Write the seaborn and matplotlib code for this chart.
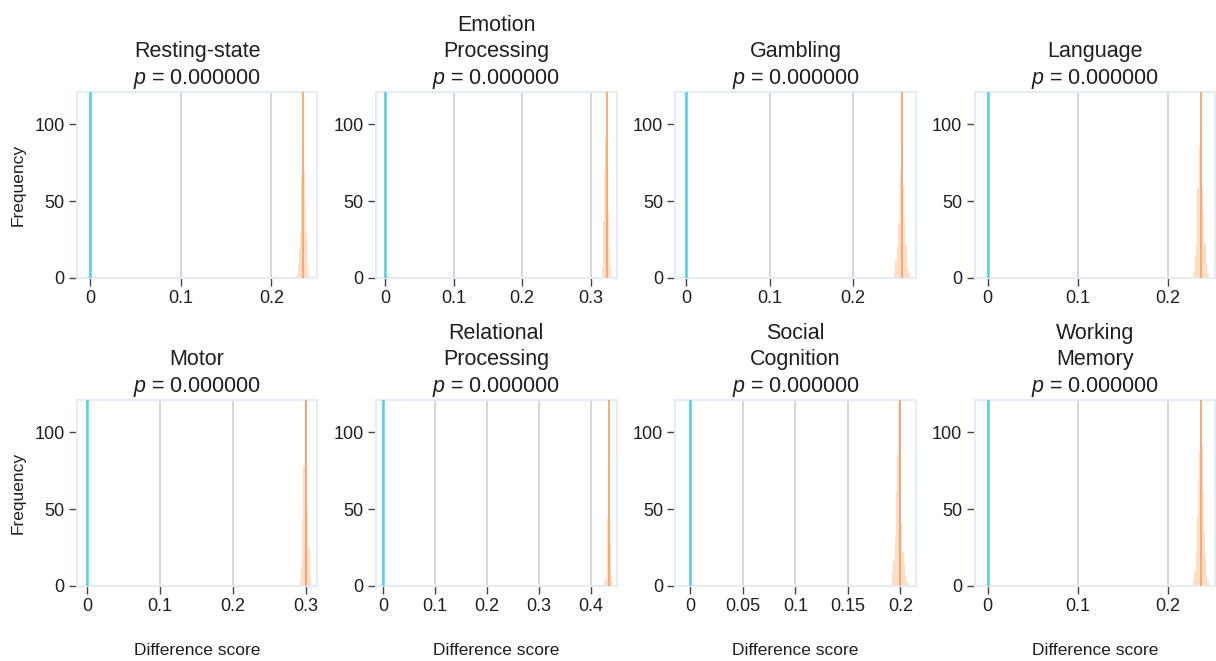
import matplotlib
matplotlib.use("Agg")
import matplotlib.pyplot as plt
import numpy as np
import pandas as pd
import seaborn as sns

sns.set_theme(style="white")
plt.rcParams['font.family'] = ['Liberation Sans', 'DejaVu Sans']
plt.rcParams['mathtext.fontset'] = 'custom'
plt.rcParams['mathtext.it'] = 'Liberation Sans:italic'
plt.rcParams['mathtext.rm'] = 'Liberation Sans'

# Data
tasks = ["Resting-state", "Emotion\nProcessing", "Gambling", "Language",
         "Motor", "Relational\nProcessing", "Social\nCognition", "Working\nMemory"]
p_values = [0.0, 0.0, 0.0, 0.0, 0.0, 0.0, 0.0, 0.0]
mean_diff = [0.2344, 0.3240, 0.2594, 0.2370, 0.3004, 0.4350, 0.1997, 0.2363]
hist_lo = [0.2278, 0.3167, 0.2494, 0.2278, 0.2918, 0.4266, 0.1908, 0.2278]
hist_hi = [0.2418, 0.3304, 0.2687, 0.2448, 0.3073, 0.4440, 0.2080, 0.2448]
counts_rest = [3, 8, 18, 30, 65, 68, 84, 70, 46, 29, 10, 3]
counts_emotion = [6, 37, 70, 91, 75, 42, 20, 6]
counts_gambling = [3, 12, 20, 36, 70, 86, 60, 40, 22, 7, 3]
counts_language = [4, 14, 22, 59, 86, 94, 59, 42, 22, 10, 3]
counts_motor = [3, 13, 43, 78, 116, 77, 52, 25, 5]
counts_relational = [3, 5, 45, 84, 78, 28, 7, 3]
counts_social = [2, 9, 16, 32, 62, 86, 118, 57, 40, 22, 14, 7, 3, 2]
counts_wm = [4, 9, 22, 45, 68, 87, 118, 92, 62, 35, 18, 7, 3]
all_counts = [counts_rest, counts_emotion, counts_gambling, counts_language,
              counts_motor, counts_relational, counts_social, counts_wm]

# axis setup per panel
x_ticks = [[0, 0.1, 0.2], [0, 0.1, 0.2, 0.3], [0, 0.1, 0.2], [0, 0.1, 0.2],
           [0, 0.1, 0.2, 0.3], [0, 0.1, 0.2, 0.3, 0.4],
           [0, 0.05, 0.1, 0.15, 0.2], [0, 0.1, 0.2]]
x_lims = [(-0.0143, 0.2505), (-0.013, 0.338), (-0.0133, 0.276), (-0.0144, 0.252),
          (-0.0137, 0.316), (-0.0135, 0.45), (-0.0143, 0.2147), (-0.0144, 0.252)]

hist_color = "#ffae78"
mean_color = "#f7a56a"
zero_color = "#52d0ef"
grid_color = "#d3d7de"
spine_color = "#e6ecf6"
text_color = "#1f1f1f"

fig, axes = plt.subplots(2, 4, figsize=(12.16, 6.61), dpi=100)
fig.subplots_adjust(left=0.0633, right=0.9992, bottom=0.1135, top=0.8608,
                    wspace=0.245, hspace=0.656)

for i, ax in enumerate(axes.flat):
    counts = all_counts[i]
    n = len(counts)
    edges = np.linspace(hist_lo[i], hist_hi[i], n + 1)
    centers = (edges[:-1] + edges[1:]) / 2
    df = pd.DataFrame({"diff": centers, "n": counts})

    for t in x_ticks[i]:
        ax.axvline(t, color=grid_color, lw=1.5, zorder=0)
    sns.histplot(data=df, x="diff", weights="n", bins=n,
                 binrange=(hist_lo[i], hist_hi[i]), ax=ax,
                 color=hist_color, alpha=0.42, edgecolor=None, linewidth=0, zorder=2)
    ax.axvline(0, color=zero_color, lw=1.8, zorder=3)
    ax.axvline(mean_diff[i], color=mean_color, lw=1.3, zorder=3)

    ax.set_xlim(x_lims[i])
    ax.set_ylim(0, 121)
    ax.set_xticks(x_ticks[i])
    ax.set_xticklabels([f"{t:g}" for t in x_ticks[i]])
    ax.set_yticks([0, 50, 100])
    ax.tick_params(axis="both", direction="out", length=6, width=1, color="#444444",
                   labelsize=13, labelcolor=text_color, pad=3,
                   bottom=True, left=True)
    for sp in ax.spines.values():
        sp.set_color(spine_color)
        sp.set_linewidth(1.5)

    ax.set_title(f"{tasks[i]}\n$p$ = {p_values[i]:.6f}", fontsize=15.5,
                 linespacing=1.3, pad=6, color=text_color)

    if i % 4 == 0:
        ax.set_ylabel("Frequency", fontsize=12.5, color=text_color, labelpad=6)
    else:
        ax.set_ylabel("")
    if i >= 4:
        ax.set_xlabel("Difference score", fontsize=12.5, color=text_color, labelpad=20)
    else:
        ax.set_xlabel("")

fig.savefig("out.png", dpi=100)
